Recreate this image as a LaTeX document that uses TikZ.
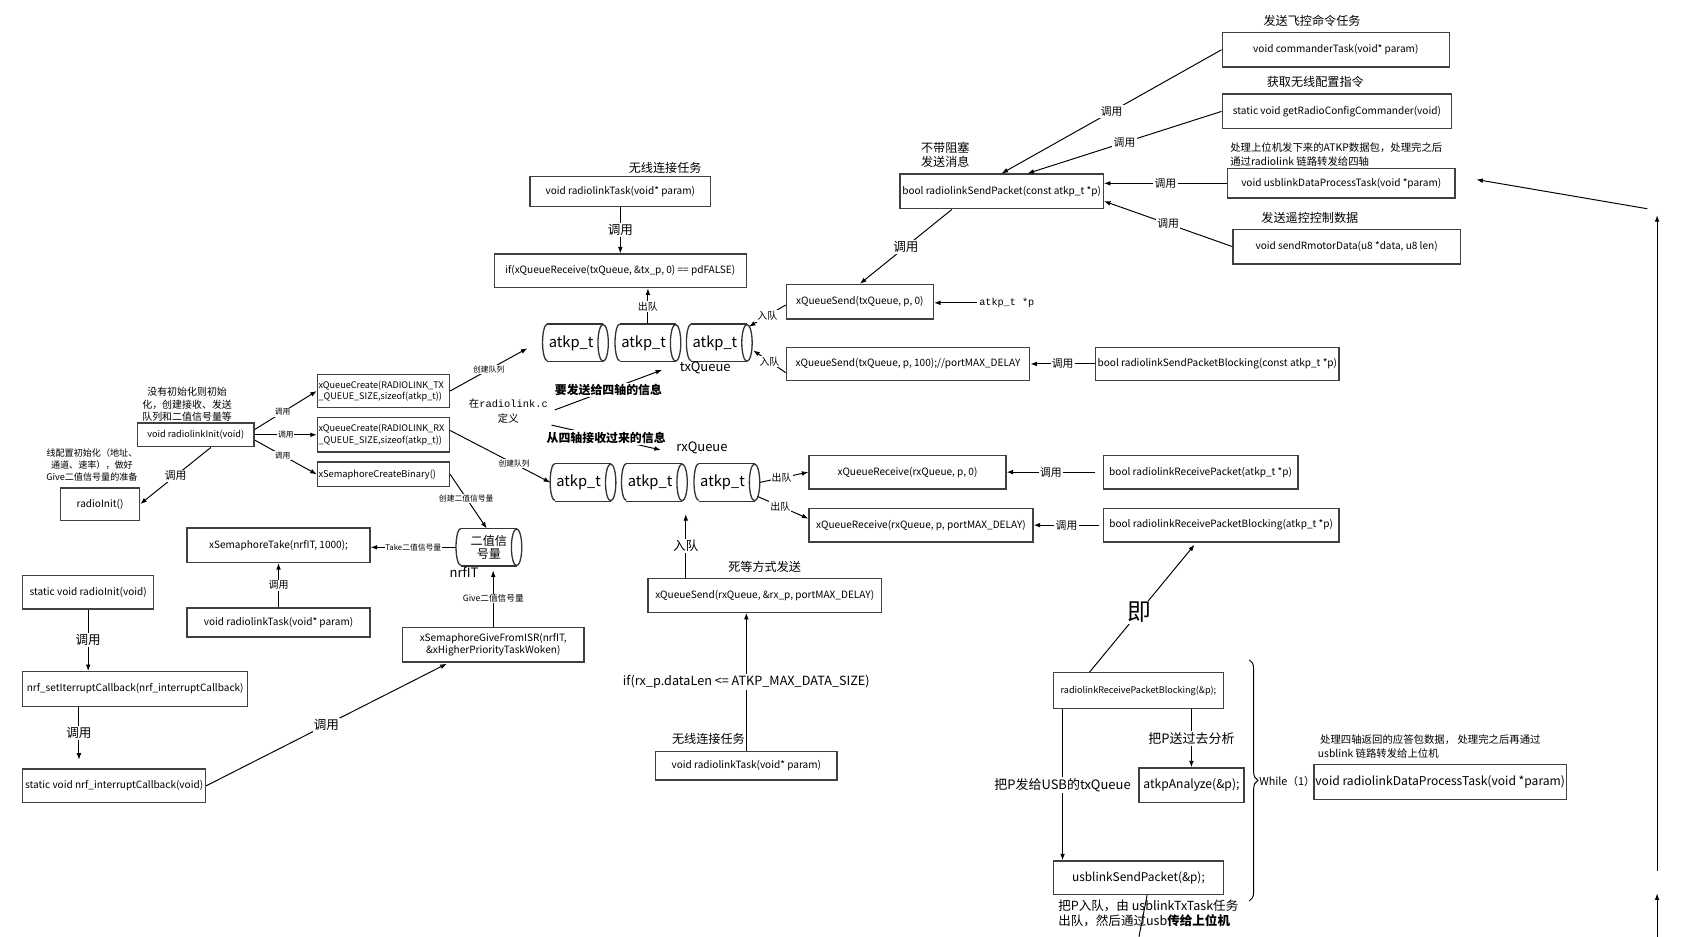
\documentclass[tikz,border=0pt]{standalone}
\usepackage{fontspec}
\setmainfont{Noto Sans CJK SC}
\newfontfamily\mono{Liberation Mono}
\usetikzlibrary{arrows.meta,calc,decorations.pathreplacing}
\tikzset{
  box/.style={draw=black!75, line width=0.65pt, fill=white, inner sep=0.5pt, align=center, font=\fontsize{4.65}{5.6}\selectfont},
  ln/.style={line width=0.45pt, black},
  arr/.style={ln, -{Latex[length=3pt,width=2.2pt]}},
  lbl/.style={fill=white, inner sep=0.6pt, font=\fontsize{5}{6}\selectfont},
  midl/.style={fill=white, inner sep=0.5pt, font=\fontsize{4.6}{5.5}\selectfont},
  tinyl/.style={fill=white, inner sep=0.4pt, font=\fontsize{3.6}{4.3}\selectfont},
  ttl/.style={font=\fontsize{5.6}{6.6}\selectfont, align=center, inner sep=0},
  cylnode/.style={inner sep=0, minimum width=30pt, minimum height=17pt, font=\fontsize{6.8}{8}\selectfont},
  cylline/.style={draw=black!80, line width=0.6pt},
}
\newcommand{\nb}[7][]{\node[box, minimum width={(#5-#3)*0.5pt}, minimum height={(#6-#4)*0.5pt}, #1] (#2) at ({(#3+#5)/2},{-(#4+#6)/2}) {#7};}
\newcommand{\lnb}[7][]{\node[box, align=left, text width={(#5-#3)*0.5pt-1.5pt}, minimum height={(#6-#4)*0.5pt}, #1] (#2) at ({(#3+#5)/2},{-(#4+#6)/2}) {#7};}
\newcommand{\cylo}[1]{%
  \draw[cylline] ([xshift=2.2pt]#1.north west) -- ([xshift=-2.4pt]#1.north east)
     ([xshift=2.2pt]#1.south west) -- ([xshift=-2.4pt]#1.south east);
  \draw[cylline] ([xshift=2.2pt]#1.north west) arc[start angle=90,end angle=270,x radius=2.2pt,y radius=8.5pt];
  \draw[cylline] ([xshift=-2.4pt]#1.east) ellipse[x radius=2.4pt, y radius=8.5pt];
}
\newcommand{\cyltext}[1]{\hspace*{-4pt}#1}
\begin{document}
\begin{tikzpicture}[x=0.5pt,y=0.5pt]
\fill[white] (0,0) rectangle (1568,-866);
\useasboundingbox (0,0) rectangle (1568,-866);

% ---------- top right ----------
\node[ttl] (tcmd) at (1213,-19) {发送飞控命令任务};
\nb{cmd}{1130}{30}{1340}{62}{void commanderTask(void* param)}
\node[ttl] (tgrc) at (1216,-76) {获取无线配置指令};
\nb{grc}{1130}{87}{1342}{119}{static void getRadioConfigCommander(void)}
\node[ttl, font=\fontsize{4.8}{6.5}\selectfont, align=left, anchor=west] (tudp) at (1137,-143) {处理上位机发下来的ATKP数据包，处理完之后\\通过radiolink 链路转发给四轴};
\nb{udp}{1135}{156}{1345}{183}{void usblinkDataProcessTask(void *param)}
\node[ttl] (tsrm) at (1211,-201) {发送遥控控制数据};
\nb{srm}{1140}{212}{1350}{244}{void sendRmotorData(u8 *data, u8 len)}
\node[ttl] (trsp) at (874,-143) {不带阻塞\\发送消息};
\nb{rsp}{832}{161}{1020}{193}{bool radiolinkSendPacket(const atkp\_t *p)}

\draw[arr] (cmd.west) -- (rsp.north) node[lbl,pos=0.5]{调用};
\draw[arr] (grc.west) -- ([xshift=12pt]rsp.north) node[lbl,pos=0.5]{调用};
\draw[arr] (udp.west) -- (udp.west -| rsp.east) node[lbl,pos=0.5]{调用};
\draw[arr] (srm.west) -- ([yshift=-4.5pt]rsp.east) node[lbl,pos=0.5]{调用};

% ---------- tx side ----------
\node[ttl] (trlt) at (615,-155) {无线连接任务};
\nb{rlt}{490}{163}{657}{191}{void radiolinkTask(void* param)}
\nb{ifq}{457}{235}{690}{266}{if(xQueueReceive(txQueue, \&tx\_p, 0) == pdFALSE)}
\draw[arr] (rlt.south) -- (rlt.south |- ifq.north) node[lbl,pos=0.5,font=\fontsize{5.8}{6.5}\selectfont]{调用};

\node[cylnode] (tx1) at (532,-317) {\cyltext{atkp\_t}}; \cylo{tx1}
\node[cylnode] (tx2) at (599,-317) {\cyltext{atkp\_t}}; \cylo{tx2}
\node[cylnode] (tx3) at (665,-317) {\cyltext{atkp\_t}}; \cylo{tx3}
\node[font=\fontsize{6}{7}\selectfont, inner sep=0] (txq) at (652,-340) {txQueue};
\draw[arr] (tx2.north) -- (tx2.north |- ifq.south) node[midl,pos=0.5]{出队};

\nb{qs0}{727}{263}{863}{295}{xQueueSend(txQueue, p, 0)}
\nb{qs1}{727}{321}{952}{352}{xQueueSend(txQueue, p, 100);//portMAX\_DELAY}
\node[font=\mono\fontsize{4.7}{5.5}\selectfont, anchor=west, inner sep=1pt] (atp) at (903,-280) {atkp\_t *p};
\draw[arr] (atp.west) -- (atp.west -| qs0.east);
\draw[arr] ([xshift=-23pt]rsp.south) -- (qs0.north) node[lbl,pos=0.5,font=\fontsize{5.8}{6.5}\selectfont]{调用};
\draw[arr] ([yshift=-1.5pt]qs0.west) -- ([xshift=-1.5pt,yshift=7.5pt]tx3.east) node[midl,pos=0.5]{入队};
\draw[arr] ([yshift=-4pt]qs1.west) -- ([xshift=0.5pt,yshift=-3.5pt]tx3.east) node[midl,pos=0.5]{入队};
\nb{rspb}{1013}{321}{1238}{352}{bool radiolinkSendPacketBlocking(const atkp\_t *p)}
\draw[arr] (rspb.west) -- (qs1.east) node[lbl,pos=0.5]{调用};

% ---------- init ----------
\node[ttl, font=\fontsize{4.6}{5.8}\selectfont] (tinit) at (173,-374) {没有初始化则初始\\化，创建接收、发送\\队列和二值信号量等};
\nb[font=\fontsize{4.2}{5}\selectfont]{rli}{127}{391}{235}{413}{void radiolinkInit(void)}
\node[ttl, font=\fontsize{4.2}{5.4}\selectfont] (tri) at (85,-430) {线配置初始化（地址、\\通道、速率），做好\\Give二值信号量的准备};
\nb{ri}{56}{451}{129}{481}{radioInit()}
\draw[arr] ([xshift=7pt]rli.south) -- (ri.east) node[lbl,pos=0.5]{调用};

\lnb[font=\fontsize{4.2}{5.2}\selectfont]{qct}{293}{346}{416}{377}{xQueueCreate(RADIOLINK\_TX\\\_QUEUE\_SIZE,sizeof(atkp\_t))}
\lnb[font=\fontsize{4.2}{5.2}\selectfont]{qcr}{293}{386}{416}{418}{xQueueCreate(RADIOLINK\_RX\\\_QUEUE\_SIZE,sizeof(atkp\_t))}
\lnb[font=\fontsize{4.3}{5.2}\selectfont]{scb}{293}{427}{416}{450}{xSemaphoreCreateBinary()}
\draw[arr] ([yshift=2.5pt]rli.east) -- (qct.west) node[tinyl,pos=0.45]{调用};
\draw[arr] (rli.east) -- (rli.east -| qcr.west) node[tinyl,pos=0.5]{调用};
\draw[arr] ([yshift=-2.5pt]rli.east) -- (scb.west) node[tinyl,pos=0.45]{调用};

\draw[arr] (qct.east) -- ([xshift=-7pt,yshift=-2.5pt]tx1.west) node[tinyl,pos=0.5]{创建队列};

% ---------- rx side ----------
\node[cylnode] (rx1) at (539,-446) {\cyltext{atkp\_t}}; \cylo{rx1}
\node[cylnode] (rx2) at (605,-446) {\cyltext{atkp\_t}}; \cylo{rx2}
\node[cylnode] (rx3) at (672,-446) {\cyltext{atkp\_t}}; \cylo{rx3}
\node[font=\fontsize{6}{7}\selectfont, inner sep=0] (rxq) at (649,-414) {rxQueue};
\draw[arr] ([yshift=2pt]qcr.east) -- (rx1.west) node[tinyl,pos=0.64]{创建队列};

\node[align=center, inner sep=0, font=\fontsize{4.8}{7.2}\selectfont] (def) at (470,-380) {在{\mono radiolink.c}\\定义};
\draw[arr] ([xshift=3pt,yshift=0.5pt]def.east) -- ([xshift=-8pt,yshift=-1pt]txq.west) node[lbl,pos=0.5,font=\bfseries\fontsize{5.5}{6.5}\selectfont]{要发送给四轴的信息};
\draw[arr] ([xshift=1.5pt,yshift=-6.5pt]def.east) -- ([xshift=-7pt,yshift=-1pt]rxq.west) node[lbl,pos=0.5,font=\bfseries\fontsize{5.5}{6.5}\selectfont]{从四轴接收过来的信息};

\nb{qr0}{748}{421}{930}{452}{xQueueReceive(rxQueue, p, 0)}
\nb{qr1}{748}{470}{955}{501}{xQueueReceive(rxQueue, p, portMAX\_DELAY)}
\nb{rrp}{1020}{421}{1200}{452}{bool radiolinkReceivePacket(atkp\_t *p)}
\nb{rrpb}{1020}{470}{1238}{501}{bool radiolinkReceivePacketBlocking(atkp\_t *p)}
\draw[arr] ([xshift=-3.5pt]rrp.west) -- (qr0.east) node[lbl,pos=0.5]{调用};
\draw[arr] ([xshift=-1.5pt]rrpb.west) -- (qr1.east) node[lbl,pos=0.5]{调用};
\draw[arr] (rx3.east) -- (qr0.west) node[midl,pos=0.45]{出队};
\draw[arr] ([xshift=-1pt,yshift=-6.5pt]rx3.east) -- ([yshift=3pt]qr1.west) node[midl,pos=0.45]{出队};

\node[ttl] (tqsr) at (707,-524) {死等方式发送};
\nb{qsr}{599}{535}{815}{566}{xQueueSend(rxQueue, \&rx\_p, portMAX\_DELAY)}
\coordinate (rxin) at ([xshift=-36.5pt,yshift=29.5pt]qsr.north);
\draw[arr] ([xshift=-36.5pt]qsr.north) -- (rxin) node[lbl,pos=0.5,font=\fontsize{5.8}{6.5}\selectfont]{入队};
\node[ttl] (trlt3) at (655,-683) {无线连接任务};
\nb{rlt3}{606}{695}{774}{721}{void radiolinkTask(void* param)}
\draw[arr] (rlt3.north) -- (rlt3.north |- qsr.south) node[lbl,pos=0.5,font=\fontsize{5.85}{7}\selectfont]{if(rx\_p.dataLen <= ATKP\_MAX\_DATA\_SIZE)};

% ---------- semaphore ----------
\node[cylnode, font=\fontsize{5.6}{5.9}\selectfont, align=center] (bin) at (452,-506) {二值信\\号量}; \cylo{bin}
\node[font=\fontsize{6}{7}\selectfont, inner sep=0] (nrfit) at (429,-529) {nrfIT};
\draw[arr] (scb.east) -- ([xshift=-1pt]bin.north) node[tinyl,pos=0.44]{创建二值信号量};
\nb{stk}{173}{488}{342}{520}{xSemaphoreTake(nrfIT, 1000);}
\draw[arr] (bin.west) -- (bin.west -| stk.east) node[tinyl,pos=0.5]{Take二值信号量};
\nb{rlt2}{173}{562}{342}{589}{void radiolinkTask(void* param)}
\draw[arr] (rlt2.north) -- (stk.south) node[midl,pos=0.5]{调用};

\nb{sri}{21}{532}{142}{563}{static void radioInit(void)}
\nb{nset}{21}{621}{229}{653}{nrf\_setIterruptCallback(nrf\_interruptCallback)}
\nb{ncb}{21}{711}{190}{742}{static void nrf\_interruptCallback(void)}
\draw[arr] (sri.south) -- (sri.south |- nset.north) node[lbl,pos=0.5,font=\fontsize{5.8}{6.5}\selectfont]{调用};
\coordinate (cbtop) at ([xshift=-16.25pt,yshift=4pt]ncb.north);
\draw[arr] (cbtop |- nset.south) -- (cbtop) node[lbl,pos=0.5,font=\fontsize{5.8}{6.5}\selectfont]{调用};
\nb{sgf}{372}{580}{540}{612}{xSemaphoreGiveFromISR(nrfIT,\\\&xHigherPriorityTaskWoken)}
\draw[arr] (ncb.east) -- ([xshift=-21.5pt,yshift=-0.5pt]sgf.south) node[lbl,pos=0.5,font=\fontsize{5.8}{6.5}\selectfont]{调用};
\coordinate (binbot) at ([xshift=2pt,yshift=-2pt]bin.south);
\draw[arr] (sgf.north) -- (sgf.north |- binbot) node[tinyl,pos=0.5,font=\fontsize{4}{4.8}\selectfont]{Give二值信号量};

% ---------- bottom right ----------
\nb[font=\fontsize{4.2}{5}\selectfont]{rrb2}{974}{622}{1131}{655}{radiolinkReceivePacketBlocking(\&p);}
\nb[font=\fontsize{5.6}{6.6}\selectfont]{atk}{1053}{710}{1150}{742}{atkpAnalyze(\&p);}
\nb[font=\fontsize{5.5}{6.6}\selectfont]{usp}{974}{796}{1131}{827}{usblinkSendPacket(\&p);}
\draw[arr] ([xshift=17pt]rrb2.north west) -- ([xshift=42.5pt,yshift=-1pt]rrpb.south west) node[lbl,pos=0.47,font=\fontsize{11}{12}\selectfont]{即};
\draw[arr] (rrb2.south -| atk.north) -- (atk.north) node[lbl,pos=0.5,font=\fontsize{6}{7}\selectfont]{把P送过去分析};
\coordinate (usptop) at ([xshift=4.5pt]usp.north west);
\draw[arr] (rrb2.south -| usptop) -- (usptop) node[lbl,pos=0.5,font=\fontsize{6}{7}\selectfont]{把P发给USB的txQueue};
\coordinate (uspout) at (1053,-866);
\draw[ln] ([xshift=4pt]usp.south) -- (uspout);
\node[anchor=north west, align=left, inner sep=0, font=\fontsize{5.8}{6.6}\selectfont] (tusp) at (978,-832) {把P入队，由 usblinkTxTask任务\\出队，然后通过usb\textbf{传给上位机}};

\coordinate (brt) at (1155,-610);
\coordinate (brb) at (1155,-833);
\draw[ln, decorate, decoration={brace, amplitude=4pt}] (brt) -- (brb);
\node[font=\fontsize{5}{6}\selectfont, inner sep=0] (wh) at (1190,-722) {While（1）};
\nb[font=\fontsize{5.6}{6.6}\selectfont]{rdp}{1215}{707}{1448}{739}{void radiolinkDataProcessTask(void *param)}
\node[anchor=west, align=left, inner sep=0, font=\fontsize{4.8}{6.5}\selectfont] (trdp) at (1218,-690) {~处理四轴返回的应答包数据， 处理完之后再通过\\usblink 链路转发给上位机};

% ---------- right arrows ----------
\coordinate (va) at (1532,-805);
\coordinate (vb) at (1532,-199);
\coordinate (da) at (1523,-193);
\coordinate (db) at (1365,-166);
\coordinate (wa) at (1532,-866);
\coordinate (wb) at (1532,-826);
\draw[arr] (va) -- (vb);
\draw[arr] (da) -- (db);
\draw[arr] (wa) -- (wb);
\end{tikzpicture}
\end{document}
